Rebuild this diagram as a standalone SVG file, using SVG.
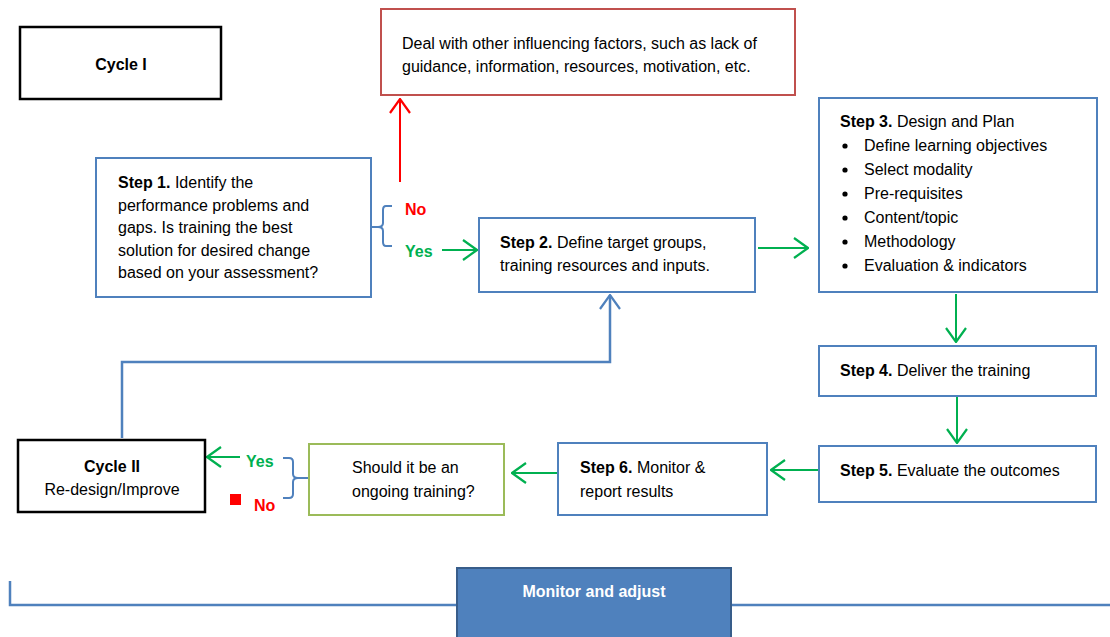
<svg xmlns="http://www.w3.org/2000/svg" width="1110" height="637" viewBox="0 0 1110 637">
<style>
text{font-family:"Liberation Sans",Arial,sans-serif;font-size:16px;fill:#000}
.b{font-weight:bold}
.box{fill:#fff;stroke:#4f81bd;stroke-width:2}
.blk{fill:#fff;stroke:#000;stroke-width:2.5}
.g{stroke:#00b050;stroke-width:2;fill:none}
.gt{fill:#00b050;font-weight:bold}
.rt{fill:#ff0000;font-weight:bold}
.bl{stroke:#4f81bd;stroke-width:2.5;fill:none}
</style>
<defs>
<marker id="ga" viewBox="0 0 16 22" refX="15" refY="11" markerWidth="16" markerHeight="22" markerUnits="userSpaceOnUse" orient="auto"><path d="M1,1 L15,11 L1,21" fill="none" stroke="#00b050" stroke-width="2.2"/></marker>
<marker id="ra" viewBox="0 0 16 22" refX="15" refY="11" markerWidth="16" markerHeight="22" markerUnits="userSpaceOnUse" orient="auto"><path d="M1,1 L15,11 L1,21" fill="none" stroke="#ff0000" stroke-width="2.2"/></marker>
<marker id="ba" viewBox="0 0 16 22" refX="15" refY="11" markerWidth="16" markerHeight="22" markerUnits="userSpaceOnUse" orient="auto"><path d="M1,1 L15,11 L1,21" fill="none" stroke="#4f81bd" stroke-width="2.2"/></marker>
</defs>
<rect width="1110" height="637" fill="#fff"/>

<g id="connectors">
<path d="M400,182 V99" stroke="#ff0000" stroke-width="2" fill="none" marker-end="url(#ra)"/>
<path d="M442,250 H477" class="g" marker-end="url(#ga)"/>
<path d="M758,248 H808" class="g" marker-end="url(#ga)"/>
<path d="M956,294 V342" class="g" marker-end="url(#ga)"/>
<path d="M957,397 V443" class="g" marker-end="url(#ga)"/>
<path d="M818,470 H771" class="g" marker-end="url(#ga)"/>
<path d="M557,473 H512" class="g" marker-end="url(#ga)"/>
<path d="M240,457 H207" class="g" marker-end="url(#ga)"/>
<path d="M122,438 V362 H610 V295" class="bl" marker-end="url(#ba)"/>
<path d="M371,227 H378 M392,206 H386 Q383,206 383,210 V223 Q383,227 378,227 Q383,227 383,231 V242 Q383,246 386,246 H392" stroke="#4f81bd" stroke-width="2" fill="none"/>
<path d="M308,478 H298 M283,458 H289 Q293,458 293,462 V474 Q293,478 298,478 Q293,478 293,482 V494 Q293,498 289,498 H283" stroke="#4f81bd" stroke-width="2" fill="none"/>
<text x="405" y="215" class="rt" font-size="15">No</text>
<text x="405" y="257" class="gt" font-size="15">Yes</text>
<text x="246" y="467" class="gt" font-size="15">Yes</text>
<text x="254" y="511" class="rt" font-size="15">No</text>
<rect x="230" y="494" width="11" height="11" fill="#ff0000"/>
</g>

<g id="cycle1">
<rect x="20" y="27" width="201" height="72" class="blk"/>
<text x="121" y="70" class="b" text-anchor="middle">Cycle I</text>
</g>

<g id="other-factors">
<rect x="381" y="9" width="414" height="86" fill="#fff" stroke="#c0504d" stroke-width="2"/>
<text x="402" y="49">Deal with other influencing factors, such as lack of</text>
<text x="402" y="72">guidance, information, resources, motivation, etc.</text>
</g>

<g id="step1">
<rect x="96" y="158" width="275" height="139" class="box"/>
<text x="118" y="188"><tspan class="b">Step 1.</tspan> Identify the</text>
<text x="118" y="211">performance problems and</text>
<text x="118" y="233">gaps. Is training the best</text>
<text x="118" y="256">solution for desired change</text>
<text x="118" y="278">based on your assessment?</text>
</g>

<g id="step2">
<rect x="479" y="218" width="276" height="74" class="box"/>
<text x="500" y="248"><tspan class="b">Step 2.</tspan> Define target groups,</text>
<text x="500" y="271">training resources and inputs.</text>
</g>

<g id="step3">
<rect x="819" y="98" width="278" height="194" class="box"/>
<text x="840" y="127"><tspan class="b">Step 3.</tspan> Design and Plan</text>
<g>
<circle cx="845" cy="146" r="2.6"/><text x="864" y="151">Define learning objectives</text>
<circle cx="845" cy="170" r="2.6"/><text x="864" y="175">Select modality</text>
<circle cx="845" cy="194" r="2.6"/><text x="864" y="199">Pre-requisites</text>
<circle cx="845" cy="218" r="2.6"/><text x="864" y="223">Content/topic</text>
<circle cx="845" cy="242" r="2.6"/><text x="864" y="247">Methodology</text>
<circle cx="845" cy="266" r="2.6"/><text x="864" y="271">Evaluation &amp; indicators</text>
</g>
</g>

<g id="step4">
<rect x="819" y="346" width="277" height="50" class="box"/>
<text x="840" y="376"><tspan class="b">Step 4.</tspan> Deliver the training</text>
</g>

<g id="step5">
<rect x="819" y="446" width="277" height="56" class="box"/>
<text x="840" y="476"><tspan class="b">Step 5.</tspan> Evaluate the outcomes</text>
</g>

<g id="step6">
<rect x="558" y="443" width="209" height="72" class="box"/>
<text x="580" y="473"><tspan class="b">Step 6.</tspan> Monitor &amp;</text>
<text x="580" y="497">report results</text>
</g>

<g id="ongoing">
<rect x="309" y="444" width="195" height="71" fill="#fff" stroke="#9bbb59" stroke-width="2"/>
<text x="352" y="473">Should it be an</text>
<text x="352" y="497">ongoing training?</text>
</g>

<g id="cycle2">
<rect x="18" y="440" width="187" height="72" class="blk"/>
<text x="112" y="472" class="b" text-anchor="middle">Cycle II</text>
<text x="112" y="495" text-anchor="middle">Re-design/Improve</text>
</g>

<g id="monitor">
<path d="M10,581 V605 H457 M731,605 H1110" stroke="#4f81bd" stroke-width="2.5" fill="none"/>
<rect x="457" y="568" width="274" height="72" fill="#4f81bd" stroke="#385d8a" stroke-width="2"/>
<text x="594" y="597" class="b" text-anchor="middle" font-size="15" style="fill:#fff">Monitor and adjust</text>
</g>
</svg>
